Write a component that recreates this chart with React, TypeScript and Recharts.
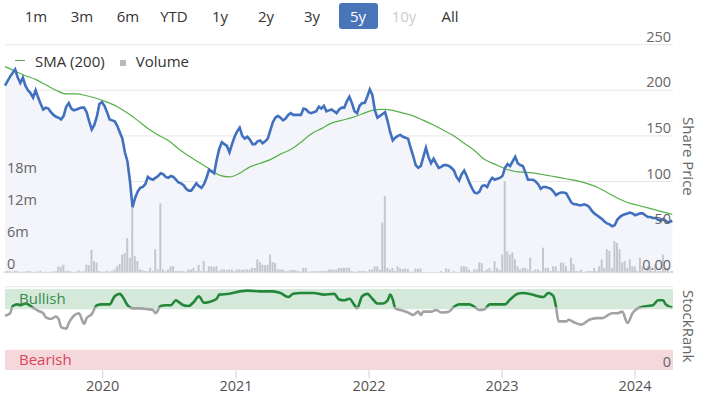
import React from "react";
import {
  Area,
  Bar,
  CartesianGrid,
  ComposedChart,
  Line,
  LineChart,
  ReferenceArea,
  ReferenceLine,
  XAxis,
  YAxis,
} from "recharts";

const FONT = '"Open Sans", "Noto Sans", sans-serif';

// Botones de rango de la cabecera
const rangeButtons = ["1m", "3m", "6m", "YTD", "1y", "2y", "3y", "5y", "10y", "All"];
const selectedRange = "5y";
const disabledRanges = ["10y"];

// Muestreo semanal: semana 0 = 2019-04-08, la última es el cierre del 2024-04-12
const WEEK_START = Date.UTC(2019, 3, 8);
const WEEK_MS = 7 * 86400000;
const LAST_DATE = Date.UTC(2024, 3, 12);
const DOMAIN_END = Date.UTC(2024, 3, 14);

// Cierre semanal (pence)
const priceValues = [
  205, 210, 215, 219, 223, 214, 208, 214, 205, 200,
  197, 192, 200, 192, 185, 179, 181, 180, 176, 173,
  171, 170, 168, 172, 182, 186, 180, 178, 179, 180,
  181, 181, 176, 166, 157, 162, 171, 185, 187, 183,
  176, 168, 167, 166, 161, 154, 147, 132, 122, 100,
  72, 82, 89, 93, 94, 97, 105, 103, 102, 104,
  106, 109, 108, 105, 104, 106, 105, 102, 99, 98,
  96, 92, 90, 90, 94, 98, 95, 93, 97, 104,
  113, 111, 109, 124, 136, 143, 141, 139, 132, 141,
  149, 155, 159, 150, 147, 149, 146, 141, 141, 144,
  145, 142, 144, 147, 156, 165, 170, 172, 170, 167,
  169, 173, 175, 173, 173, 173, 173, 180, 179, 176,
  175, 176, 177, 182, 180, 183, 177, 178, 179, 177,
  175, 179, 181, 181, 188, 193, 186, 177, 175, 183,
  186, 186, 193, 201, 195, 178, 170, 172, 174, 176,
  166, 154, 145, 148, 150, 151, 149, 148, 147, 137,
  128, 118, 115, 117, 127, 137, 127, 120, 125, 120,
  115, 116, 118, 118, 117, 115, 112, 105, 101, 108,
  112, 106, 99, 93, 88, 87, 89, 95, 96, 94,
  100, 104, 102, 103, 104, 106, 115, 119, 117, 122,
  127, 120, 118, 117, 110, 102, 102, 102, 100, 97,
  92, 94, 94, 93, 92, 89, 85, 87, 88, 88,
  87, 82, 77, 75, 75, 74, 74, 75, 74, 72,
  68, 65, 63, 61, 59, 56, 54, 53, 51, 52,
  58, 61, 63, 64, 65, 66, 65, 63, 64, 65,
  65, 63, 61, 61, 60, 60, 58, 57, 59, 57,
  55, 57,
];

// Volumen semanal (millones de acciones)
const volumeValues = [
  0.2, 0.3, 0.3, 0.2, 0.3, 0.3, 0.1, 0.2, 0.2, 0.3,
  0.3, 0.1, 0.2, 0.2, 0.3, 0.1, 0.2, 0.1, 0.2, 0.2,
  0.3, 1.2, 1.1, 1.5, 0.3, 0.4, 0.2, 0.1, 0.2, 0.4,
  0.2, 0.3, 1.5, 1.4, 4.3, 2.2, 1.9, 0.3, 0.2, 0.2,
  0.4, 0.2, 0.3, 0.6, 1.2, 1.6, 3.4, 3.7, 6.5, 2.8,
  12.4, 3.1, 2.2, 0.6, 0.5, 0.3, 0.3, 0.9, 0.3, 4.4,
  0.6, 13.0, 0.6, 0.3, 0.6, 1.2, 1.2, 0.3, 0.3, 0.3,
  0.3, 0.2, 0.6, 0.6, 0.9, 0.3, 1.5, 0.3, 2.2, 0.3,
  1.2, 1.2, 1.1, 1.2, 0.3, 0.6, 0.6, 0.5, 0.6, 0.6,
  0.3, 0.6, 0.6, 0.5, 0.6, 0.6, 0.6, 0.9, 0.9, 2.5,
  2.0, 1.5, 1.4, 1.5, 3.4, 2.0, 1.8, 0.6, 0.6, 0.6,
  0.3, 0.3, 0.5, 0.5, 0.5, 0.3, 0.2, 0.9, 0.9, 0.2,
  0.2, 0.3, 0.3, 0.3, 0.3, 0.3, 0.3, 0.6, 0.6, 0.6,
  0.6, 0.9, 0.9, 0.9, 0.9, 0.9, 0.3, 0.2, 0.2, 0.3,
  0.3, 0.3, 0.2, 0.6, 0.6, 1.2, 1.2, 0.6, 9.4, 14.4,
  0.9, 0.6, 0.9, 0.3, 1.2, 0.8, 0.7, 0.8, 0.7, 0.2,
  0.2, 0.8, 0.7, 0.8, 0.1, 0.1, 0.1, 0.1, 0.1, 0.1,
  0.1, 0.3, 0.1, 0.8, 0.7, 0.1, 0.3, 0.1, 0.1, 1.2,
  1.2, 1.1, 0.6, 0.2, 0.6, 0.6, 1.9, 1.8, 0.3, 0.6,
  0.9, 0.3, 2.2, 0.9, 0.5, 3.4, 17.2, 4.0, 3.4, 3.8,
  2.5, 1.2, 0.6, 0.9, 0.9, 0.6, 2.8, 0.3, 0.6, 0.6,
  0.3, 4.7, 0.9, 0.9, 0.3, 1.2, 1.2, 0.3, 1.9, 1.9,
  1.2, 0.3, 2.8, 1.6, 0.3, 0.3, 0.6, 0.1, 0.3, 0.3,
  0.3, 0.9, 0.3, 1.2, 2.5, 0.9, 4.4, 4.1, 0.9, 5.9,
  5.6, 4.4, 1.9, 2.2, 0.9, 2.5, 1.2, 1.2, 0.3, 2.8,
  1.2, 0.3, 1.2, 1.2, 0.3, 1.6, 0.3, 0.3, 3.4, 0.9,
  0.9, 0.3,
];

// Media móvil de 200 sesiones, leída cada 4 semanas
const smaWeeks = [
  0, 4, 8, 12, 16, 20, 24, 28, 32, 36, 40, 44, 48, 52, 56, 60, 64, 68, 72, 76,
  80, 84, 88, 92, 96, 100, 104, 108, 112, 116, 120, 124, 128, 132, 136, 140,
  144, 148, 152, 156, 160, 164, 168, 172, 176, 180, 184, 188, 192, 196, 200,
  204, 208, 212, 216, 220, 224, 228, 232, 236, 240, 244, 248, 252, 256, 260, 261,
];
const smaValues = [
  226, 221, 216, 212, 206, 200, 196, 196, 194, 191, 187, 182, 175, 167, 158,
  151, 145, 136, 128, 121, 114, 107, 105, 109, 116, 120, 124, 130, 135, 143,
  152, 158, 164, 167, 170, 174, 178, 179, 178, 175, 172, 167, 162, 156, 150,
  142, 134, 124, 119, 114, 111, 110, 109, 107, 105, 103, 101, 98, 94, 88, 82,
  77, 74, 71, 68, 65, 64,
];

// StockRank (0-100)
const rankWeeks = [
  0, 2, 3, 5, 6, 8, 9, 11, 13, 15, 16, 18, 20, 21, 22, 24, 25, 27, 29, 31,
  32, 34, 36, 38, 41, 43, 45, 46, 48, 50, 53, 56, 58, 59, 61, 63, 65, 67, 68, 70,
  72, 74, 76, 78, 80, 83, 84, 88, 92, 95, 100, 105, 108, 111, 113, 116, 121, 125, 129, 131,
  133, 135, 137, 138, 140, 142, 144, 146, 148, 150, 151, 152, 153, 155, 158, 160, 162, 163, 164, 167,
  169, 171, 174, 176, 178, 182, 184, 186, 188, 190, 194, 196, 198, 201, 203, 207, 209, 211, 213, 215,
  216, 217, 220, 221, 223, 226, 229, 232, 234, 238, 240, 242, 244, 246, 248, 250, 252, 254, 256, 258,
  259, 261,
];
const rankValues = [
  67, 70, 79, 81, 80, 82, 81, 77, 73, 70, 65, 63, 66, 63, 53, 51, 58, 67, 70, 57,
  64, 69, 80, 81, 81, 91, 94, 91, 80, 76, 76, 75, 74, 70, 79, 80, 80, 86, 84, 80,
  79, 84, 91, 83, 84, 88, 93, 94, 97, 98, 97, 97, 95, 90, 94, 95, 95, 93, 94, 87,
  86, 88, 80, 76, 91, 94, 88, 82, 82, 86, 93, 87, 76, 74, 71, 68, 72, 68, 72, 72,
  74, 71, 72, 78, 81, 81, 78, 74, 75, 81, 81, 81, 87, 94, 95, 93, 91, 90, 95, 91,
  78, 60, 60, 62, 59, 56, 62, 64, 64, 70, 70, 72, 58, 70, 76, 78, 79, 80, 86, 86,
  81, 77,
];
const BULLISH_LINE_FROM = 78;

const yearTicks = ["2020", "2021", "2022", "2023", "2024"];
const priceTicks = [0, 50, 100, 150, 200, 250];
const volumeTicks = [0, 6, 12, 18];

const PRICE_BLUE = "#4171be";
const SMA_GREEN = "#57b04a";

function weekDate(week: number) {
  return week === priceValues.length - 1 ? LAST_DATE : WEEK_START + week * WEEK_MS;
}

const priceData = priceValues.map((price, week) => {
  const smaIndex = smaWeeks.indexOf(week);
  return {
    t: weekDate(week),
    price,
    volume: volumeValues[week],
    sma: smaIndex >= 0 ? smaValues[smaIndex] : undefined,
  };
});

const rankData = rankWeeks.map((week, i) => ({ t: weekDate(week), rank: rankValues[i] }));

const rankMax = Math.max(...rankValues);
const rankMin = Math.min(...rankValues);
const rankSplit = (rankMax - BULLISH_LINE_FROM) / (rankMax - rankMin);

function PriceTick(props: any) {
  const { x, y, payload } = props;
  return (
    <text x={x} y={y - 3} textAnchor="end" fill="#666" fontSize={14.5} fontFamily={FONT}>
      {payload.value === 0 ? "0.00" : payload.value}
    </text>
  );
}

function VolumeTick(props: any) {
  const { x, y, payload } = props;
  return (
    <text x={x} y={y - 4} textAnchor="start" fill="#666" fontSize={14.5} fontFamily={FONT}>
      {payload.value === 0 ? "0" : `${payload.value}m`}
    </text>
  );
}

function RankTick(props: any) {
  const { x, y, payload } = props;
  return (
    <text x={x} y={y - 3} textAnchor="end" fill="#666" fontSize={14.5} fontFamily={FONT}>
      {payload.value}
    </text>
  );
}

function RangeButtons() {
  return (
    <>
      {rangeButtons.map((label, i) => {
        const selected = label === selectedRange;
        const disabled = disabledRanges.includes(label);
        return (
          <div
            key={label}
            style={{
              position: "absolute",
              left: 13 + i * 46,
              top: 0,
              width: 46,
              height: 31,
              display: "flex",
              alignItems: "center",
              justifyContent: "center",
            }}
          >
            <span
              style={{
                display: "inline-block",
                width: 39,
                height: 26,
                lineHeight: "26px",
                textAlign: "center",
                borderRadius: 3,
                background: selected ? "#4a74b8" : "transparent",
                color: selected ? "#fff" : disabled ? "#cccccc" : "#333",
                fontSize: 15,
              }}
            >
              {label}
            </span>
          </div>
        );
      })}
    </>
  );
}

export default function App() {
  return (
    <div
      style={{
        position: "absolute",
        left: 0,
        top: 0,
        width: 701,
        height: 394,
        background: "#fff",
        fontFamily: FONT,
        overflow: "hidden",
      }}
    >
      <RangeButtons />

      <div style={{ position: "absolute", left: 0, top: 0 }}>
        <ComposedChart
          width={701}
          height={280}
          data={priceData}
          margin={{ top: 44.7, right: 28, bottom: 7.3, left: 5 }}
        >
          <XAxis dataKey="t" type="number" domain={[WEEK_START, DOMAIN_END]} hide />
          <YAxis
            yAxisId="price"
            orientation="right"
            mirror
            domain={[0, 250]}
            ticks={priceTicks}
            interval={0}
            axisLine={false}
            tickLine={false}
            tickSize={0}
            tick={PriceTick}
          />
          <YAxis
            yAxisId="vol"
            orientation="left"
            mirror
            domain={[0, 42.75]}
            ticks={volumeTicks}
            interval={0}
            axisLine={false}
            tickLine={false}
            tickSize={0}
            tickMargin={2}
            tick={VolumeTick}
          />
          <CartesianGrid yAxisId="price" vertical={false} stroke="#e6e6e6" />
          <Area
            yAxisId="price"
            dataKey="price"
            type="linear"
            stroke="none"
            fill="#f3f5fb"
            fillOpacity={1}
            isAnimationActive={false}
          />
          <Bar yAxisId="vol" dataKey="volume" barSize={2} fill="#c5c7cd" isAnimationActive={false} />
          <Line
            yAxisId="price"
            dataKey="sma"
            type="monotone"
            stroke={SMA_GREEN}
            strokeWidth={1.2}
            dot={false}
            connectNulls
            isAnimationActive={false}
          />
          <Line
            yAxisId="price"
            dataKey="price"
            type="linear"
            stroke={PRICE_BLUE}
            strokeWidth={2.6}
            dot={false}
            isAnimationActive={false}
          />
        </ComposedChart>
      </div>

      {/* Leyenda */}
      <div
        style={{
          position: "absolute",
          left: 15,
          top: 50,
          height: 21,
          display: "flex",
          alignItems: "center",
          fontSize: 15,
          color: "#333",
          whiteSpace: "nowrap",
        }}
      >
        <span style={{ display: "inline-block", width: 10, height: 1.5, background: SMA_GREEN, marginRight: 10 }} />
        <span>SMA (200)</span>
        <span
          style={{
            display: "inline-block",
            width: 6,
            height: 6,
            background: "#b9bbc1",
            marginLeft: 15,
            marginRight: 10,
            marginTop: 5,
          }}
        />
        <span>Volume</span>
      </div>

      <div
        style={{
          position: "absolute",
          left: 679,
          top: 117,
          writingMode: "vertical-rl",
          fontSize: 15,
          lineHeight: "20px",
          color: "#666",
          whiteSpace: "nowrap",
        }}
      >
        Share Price
      </div>

      <div style={{ position: "absolute", left: 0, top: 280 }}>
        <LineChart
          width={701}
          height={114}
          data={rankData}
          margin={{ top: 6.7, right: 28, bottom: 0, left: 5 }}
        >
          <defs>
            <linearGradient id="rankZone" x1="0" y1="0" x2="0" y2="1">
              <stop offset={rankSplit} stopColor="#23873a" />
              <stop offset={rankSplit} stopColor="#a3a3a3" />
            </linearGradient>
          </defs>
          <XAxis
            dataKey="t"
            type="number"
            domain={[WEEK_START, DOMAIN_END]}
            ticks={yearTicks.map((y) => Date.UTC(Number(y), 0, 1))}
            tickFormatter={(v: number) => String(new Date(v).getUTCFullYear())}
            interval={0}
            height={24}
            axisLine={false}
            tickLine={{ stroke: "#d0d4dc" }}
            tickSize={8}
            tickMargin={3}
            tick={{ fill: "#555", fontSize: 14.5, fontFamily: FONT }}
          />
          <YAxis
            orientation="right"
            mirror
            domain={[0, 102.8]}
            ticks={[0]}
            interval={0}
            axisLine={false}
            tickLine={false}
            tickSize={0}
            tick={RankTick}
          />
          <ReferenceLine y={102.8} stroke="#e6e6e6" />
          <ReferenceArea
            y1={75}
            y2={100}
            fill="#d4e9da"
            fillOpacity={1}
            stroke="none"
            label={{ value: "Bullish", position: "insideLeft", offset: 14, fill: "#3b8a4c", fontSize: 15, fontFamily: FONT }}
          />
          <ReferenceArea
            y1={0}
            y2={25}
            fill="#f5d8db"
            fillOpacity={1}
            stroke="none"
            label={{ value: "Bearish", position: "insideLeft", offset: 14, fill: "#d7475c", fontSize: 15, fontFamily: FONT }}
          />
          <Line
            dataKey="rank"
            type="monotone"
            stroke="url(#rankZone)"
            strokeWidth={2.6}
            dot={false}
            isAnimationActive={false}
          />
        </LineChart>
      </div>

      <div
        style={{
          position: "absolute",
          left: 679,
          top: 290,
          writingMode: "vertical-rl",
          fontSize: 15,
          lineHeight: "20px",
          color: "#666",
          whiteSpace: "nowrap",
        }}
      >
        StockRank
      </div>
    </div>
  );
}
